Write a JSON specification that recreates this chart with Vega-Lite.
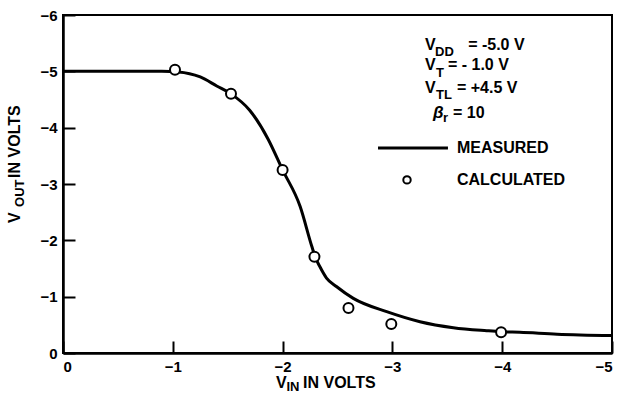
{
  "$schema": "https://vega.github.io/schema/vega-lite/v6.json",
  "width": 549,
  "height": 338,
  "autosize": "none",
  "padding": {"left": 63, "top": 15, "right": 8, "bottom": 43},
  "background": "white",
  "config": {
    "view": {"stroke": "black", "strokeWidth": 2},
    "axis": {
      "domainColor": "black", "domainWidth": 2.5,
      "tickColor": "black", "tickWidth": 2, "tickSize": -12,
      "labelFont": "Liberation Sans", "labelFontSize": 15, "labelFontWeight": "bold",
      "labelColor": "black", "grid": false, "title": null, "labelPadding": 18
    },
    "text": {"font": "Liberation Sans", "fontWeight": "bold", "color": "black", "align": "left", "baseline": "middle"}
  },
  "datasets": {
    "measured": [
      {"x": 0, "y": -5.0}, {"x": -0.5, "y": -5.0}, {"x": -0.9, "y": -5.0}, {"x": -1.05, "y": -4.99},
      {"x": -1.25, "y": -4.9}, {"x": -1.4, "y": -4.74}, {"x": -1.53, "y": -4.6}, {"x": -1.7, "y": -4.31},
      {"x": -1.867, "y": -3.8}, {"x": -2.0, "y": -3.25}, {"x": -2.16, "y": -2.6}, {"x": -2.265, "y": -1.9},
      {"x": -2.3, "y": -1.69}, {"x": -2.34, "y": -1.53}, {"x": -2.4, "y": -1.33}, {"x": -2.49, "y": -1.18},
      {"x": -2.644, "y": -0.97}, {"x": -2.948, "y": -0.734}, {"x": -3.251, "y": -0.556}, {"x": -3.555, "y": -0.45},
      {"x": -3.859, "y": -0.396}, {"x": -3.99, "y": -0.378}, {"x": -4.16, "y": -0.367}, {"x": -4.5, "y": -0.335},
      {"x": -5.0, "y": -0.31}
    ],
    "calculated": [
      {"x": -1.02, "y": -5.03}, {"x": -1.53, "y": -4.6}, {"x": -2.0, "y": -3.25}, {"x": -2.29, "y": -1.71},
      {"x": -2.6, "y": -0.8}, {"x": -2.99, "y": -0.515}, {"x": -3.99, "y": -0.37}
    ],
    "notes": [
      {"x": -3.297, "y": -5.462, "t": "V"}, {"x": -3.69, "y": -5.462, "t": "=  -5.0 V"},
      {"x": -3.297, "y": -5.107, "t": "V"}, {"x": -3.506, "y": -5.107, "t": "=  - 1.0  V"},
      {"x": -3.297, "y": -4.707, "t": "V"}, {"x": -3.588, "y": -4.707, "t": "= +4.5 V"},
      {"x": -3.552, "y": -4.263, "t": "=  10"},
      {"x": -3.588, "y": -3.641, "t": "MEASURED"}, {"x": -3.588, "y": -3.073, "t": "CALCULATED"},
      {"x": -1.94, "y": 0.54, "t": "V"}, {"x": -2.186, "y": 0.54, "t": "IN VOLTS"}
    ],
    "beta": [{"x": -3.37, "y": -4.263, "t": "β"}],
    "subs": [
      {"x": -3.388, "y": -5.346, "t": "DD"}, {"x": -3.397, "y": -4.973, "t": "T"},
      {"x": -3.397, "y": -4.583, "t": "TL"}, {"x": -3.461, "y": -4.174, "t": "r"},
      {"x": -2.035, "y": 0.61, "t": "IN"}
    ],
    "ytitle": [{"x": 0.437, "y": -2.309, "t": "V"}, {"x": 0.437, "y": -3.108, "t": "IN VOLTS"}],
    "ysub": [{"x": 0.39, "y": -2.593, "t": "OUT"}],
    "legline": [{"x": -2.869, "x2": -3.506, "y": -3.641}],
    "legdot": [{"x": -3.133, "y": -3.073}]
  },
  "encoding": {
    "x": {"field": "x", "type": "quantitative",
      "scale": {"domain": [-5, 0], "reverse": true, "nice": false, "zero": false},
      "axis": {"values": [0, -1, -2, -3, -4, -5]}},
    "y": {"field": "y", "type": "quantitative",
      "scale": {"domain": [-6, 0], "reverse": true, "nice": false, "zero": false},
      "axis": {"values": [0, -1, -2, -3, -4, -5, -6]}}
  },
  "layer": [
    {"data": {"name": "measured"}, "mark": {"type": "line", "color": "black", "strokeWidth": 3, "interpolate": "monotone"}},
    {"data": {"name": "calculated"}, "mark": {"type": "point", "shape": "circle", "size": 100, "filled": true, "fill": "white", "stroke": "black", "strokeWidth": 2, "opacity": 1}},
    {"data": {"name": "legline"}, "mark": {"type": "rule", "color": "black", "strokeWidth": 3}, "encoding": {"x2": {"field": "x2"}}},
    {"data": {"name": "legdot"}, "mark": {"type": "point", "shape": "circle", "size": 55, "filled": true, "fill": "white", "stroke": "black", "strokeWidth": 2, "opacity": 1}},
    {"data": {"name": "notes"}, "mark": {"type": "text", "fontSize": 16}, "encoding": {"text": {"field": "t"}}},
    {"data": {"name": "beta"}, "mark": {"type": "text", "fontSize": 17, "fontStyle": "italic"}, "encoding": {"text": {"field": "t"}}},
    {"data": {"name": "subs"}, "mark": {"type": "text", "fontSize": 13}, "encoding": {"text": {"field": "t"}}},
    {"data": {"name": "ytitle"}, "mark": {"type": "text", "fontSize": 16, "angle": 270}, "encoding": {"text": {"field": "t"}}},
    {"data": {"name": "ysub"}, "mark": {"type": "text", "fontSize": 13, "angle": 270}, "encoding": {"text": {"field": "t"}}}
  ]
}
